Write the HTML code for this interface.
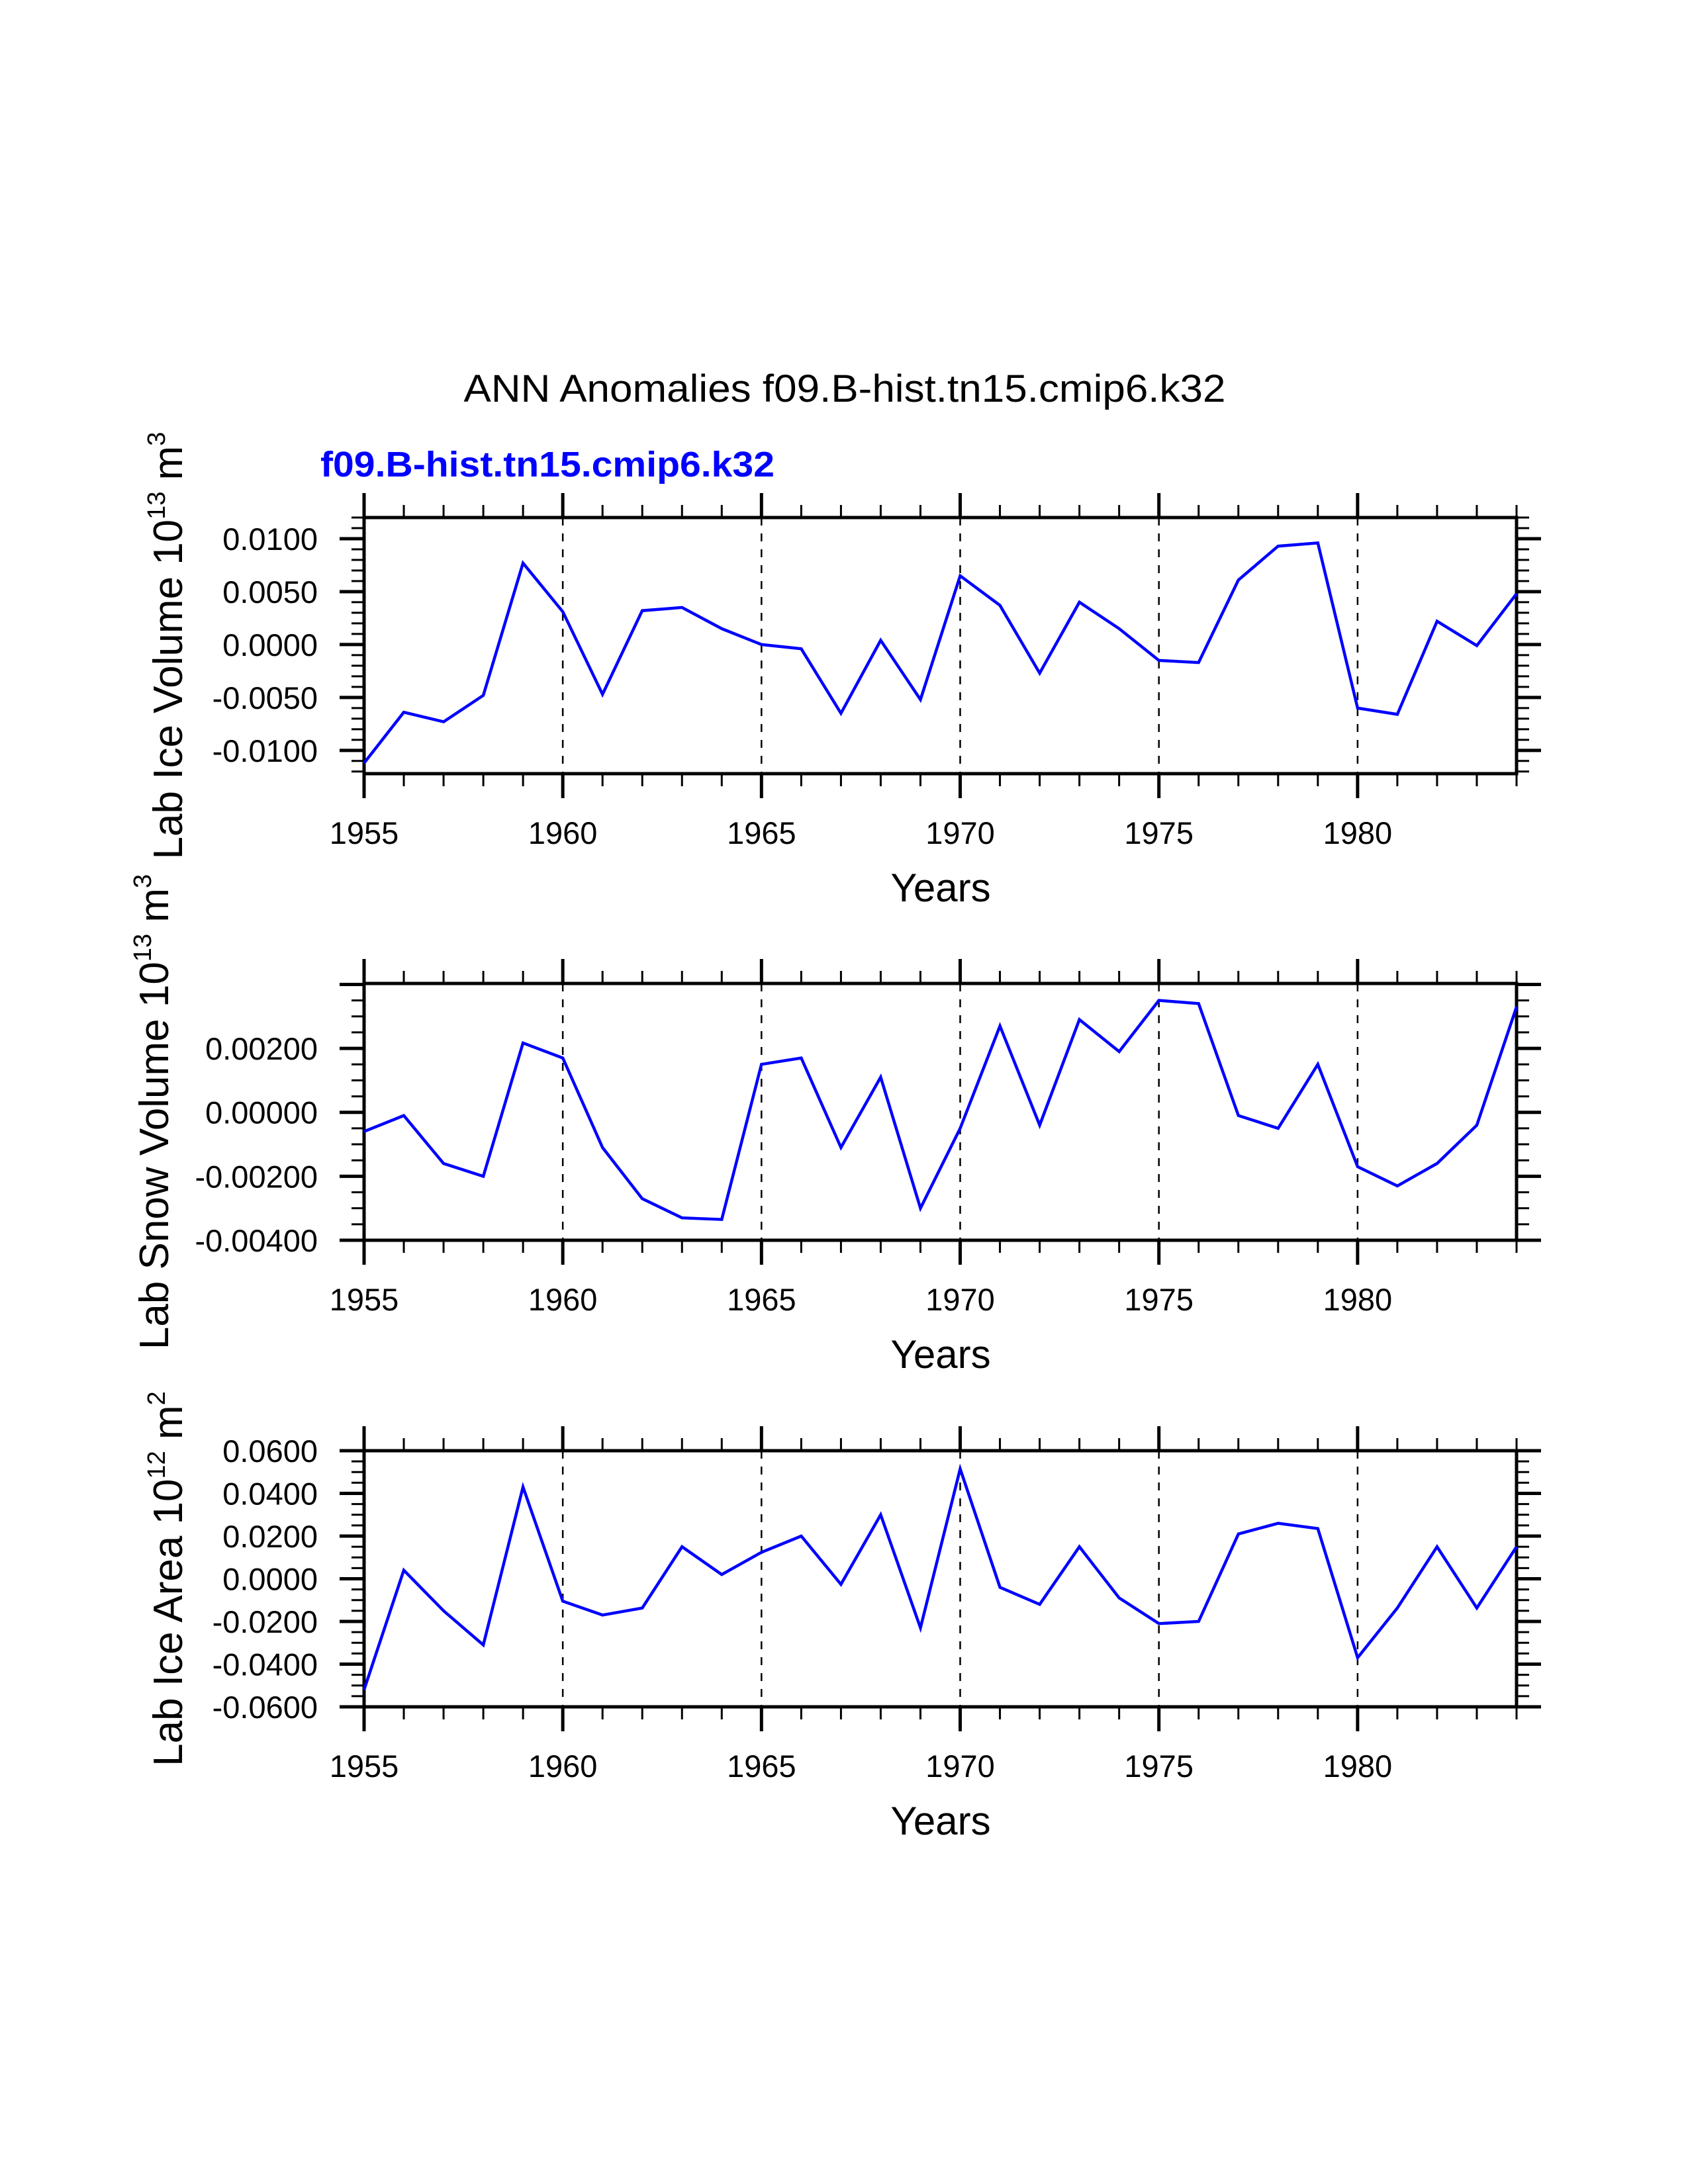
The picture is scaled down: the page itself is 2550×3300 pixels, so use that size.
<!DOCTYPE html>
<html><head><meta charset="utf-8"><style>html,body{margin:0;padding:0;background:#fff}svg{display:block}</style></head>
<body>
<svg id="chart" width="2550" height="3300" viewBox="0 0 2550 3300" xmlns="http://www.w3.org/2000/svg" font-family="Liberation Sans, sans-serif">
<text x="1276" y="607" font-size="58" text-anchor="middle" textLength="1151" lengthAdjust="spacingAndGlyphs">ANN Anomalies f09.B-hist.tn15.cmip6.k32</text>
<text x="484" y="720" font-size="54" font-weight="bold" fill="#0000ff" textLength="686" lengthAdjust="spacingAndGlyphs">f09.B-hist.tn15.cmip6.k32</text>
<g id="plots"></g>
</svg>
<script>
const years = [1955,1956,1957,1958,1959,1960,1961,1962,1963,1964,1965,1966,1967,1968,1969,1970,1971,1972,1973,1974,1975,1976,1977,1978,1979,1980,1981,1982,1983,1984];
const iceVolume = [-0.0112,-0.0064,-0.0073,-0.0048,0.0077,0.0031,-0.0047,0.0032,0.0035,0.0015,0.0000,-0.0004,-0.0065,0.0004,-0.0052,0.0065,0.0037,-0.0027,0.0040,0.0015,-0.0015,-0.0017,0.0061,0.0093,0.0096,-0.0060,-0.0066,0.0022,-0.0001,0.0048];
const snowVolume = [-0.0006,-0.0001,-0.0016,-0.0020,0.00217,0.0017,-0.0011,-0.0027,-0.0033,-0.00335,0.0015,0.0017,-0.0011,0.0011,-0.0030,-0.0005,0.0027,-0.0004,0.0029,0.0019,0.0035,0.0034,-0.0001,-0.0005,0.0015,-0.0017,-0.0023,-0.0016,-0.0004,0.0033];
const iceArea = [-0.052,0.004,-0.015,-0.031,0.043,-0.0105,-0.017,-0.0137,0.015,0.002,0.0124,0.020,-0.0026,0.030,-0.023,0.0515,-0.004,-0.012,0.015,-0.009,-0.021,-0.020,0.021,0.026,0.0235,-0.037,-0.0137,0.015,-0.0137,0.015];
const xTickLabels = ["1955","1960","1965","1970","1975","1980"];
const iceVolumeTicks = ["0.0100","0.0050","0.0000","-0.0050","-0.0100"];
const snowVolumeTicks = ["0.00200","0.00000","-0.00200","-0.00400"];
const iceAreaTicks = ["0.0600","0.0400","0.0200","0.0000","-0.0200","-0.0400","-0.0600"];

const NS = "http://www.w3.org/2000/svg";
const root = document.getElementById('plots');
function mk(tag, attrs, parent){const e=document.createElementNS(NS,tag);for(const k in attrs)e.setAttribute(k,attrs[k]);(parent||root).appendChild(e);return e;}

const X0=550, X1=2291;
function xs(y){return X0+(y-1955)/(1984-1955)*(X1-X0);}

const panels=[
 {name:'ice-volume',top:782,bot:1169,ymin:-0.0122,ymax:0.0120,data:iceVolume,ticks:iceVolumeTicks,major:0.005,minor:0.001,title:['Lab Ice Volume 10','13',' m','3'],tx:275,xlabY:1275,yearsY:1362},
 {name:'snow-volume',top:1486,bot:1874,ymin:-0.0040,ymax:0.00403,data:snowVolume,ticks:snowVolumeTicks,major:0.002,minor:0.0005,title:['Lab Snow Volume 10','13',' m','3'],tx:254,xlabY:1980,yearsY:2067},
 {name:'ice-area',top:2192,bot:2579,ymin:-0.06,ymax:0.06,data:iceArea,ticks:iceAreaTicks,major:0.02,minor:0.005,title:['Lab Ice Area 10','12',' m','2'],tx:275,xlabY:2685,yearsY:2772}
];

panels.forEach(p=>{
 const g=mk('g',{});
 
 
 const ys=v=>p.bot-(v-p.ymin)/(p.ymax-p.ymin)*(p.bot-p.top);
 for(let yr=1960; yr<=1980; yr+=5){
  const l=mk('line',{x1:xs(yr),x2:xs(yr),y1:p.top,y2:p.bot,stroke:'#000','stroke-width':2.5,'stroke-dasharray':'12 12'},g);
  
  
 }
 for(let yr=1955; yr<=1984; yr++){
  const maj=(yr%5===0), len=maj?37:19, w=maj?5:3;
  mk('line',{x1:xs(yr),x2:xs(yr),y1:p.bot,y2:p.bot+len,stroke:'#000','stroke-width':w},g);
  mk('line',{x1:xs(yr),x2:xs(yr),y1:p.top,y2:p.top-len,stroke:'#000','stroke-width':w},g);
 }
 const nMin=Math.ceil(p.ymin/p.minor-1e-6), nMax=Math.floor(p.ymax/p.minor+1e-6);
 const ratio=Math.round(p.major/p.minor);
 for(let i=nMin;i<=nMax;i++){
  const v=i*p.minor, y=ys(v), maj=(i%ratio===0), len=maj?37:19, w=maj?5:3;
  mk('line',{x1:X0,x2:X0-len,y1:y,y2:y,stroke:'#000','stroke-width':w},g);
  mk('line',{x1:X1,x2:X1+len,y1:y,y2:y,stroke:'#000','stroke-width':w},g);
 }
 p.ticks.forEach(t=>{
  const tx=mk('text',{x:480,y:ys(parseFloat(t))+17,'font-size':47,'text-anchor':'end'},g);
  
  
  tx.textContent=t;
 });
 xTickLabels.forEach(t=>{
  const tx=mk('text',{x:xs(parseInt(t)),y:p.xlabY,'font-size':47,'text-anchor':'middle'},g);
  
  
  tx.textContent=t;
 });
 const fr=mk('rect',{x:X0,y:p.top,width:X1-X0,height:p.bot-p.top,fill:'none',stroke:'#000','stroke-width':5},g);
 
 
 const pts=p.data.map((v,i)=>xs(years[i]).toFixed(1)+','+ys(v).toFixed(1)).join(' ');
 const pl=mk('polyline',{points:pts,fill:'none',stroke:'#0000ff','stroke-width':4.5,'stroke-linejoin':'miter'},g);
 
 
 const xt=mk('text',{x:1421,y:p.yearsY,'font-size':60,'text-anchor':'middle'},g);
 
 
 xt.textContent='Years';
 const cy=(p.top+p.bot)/2;
 const yt=mk('text',{x:0,y:0,'font-size':62,'text-anchor':'middle',transform:'translate('+p.tx+','+cy+') rotate(-90)'},g);
 
 
 const a=mk('tspan',{},yt); a.textContent=p.title[0];
 const b=mk('tspan',{dy:-26,'font-size':38},yt); b.textContent=p.title[1];
 const c=mk('tspan',{dy:26},yt); c.textContent=p.title[2];
 const d=mk('tspan',{dy:-26,'font-size':38},yt); d.textContent=p.title[3];
});
</script>
</body></html>
